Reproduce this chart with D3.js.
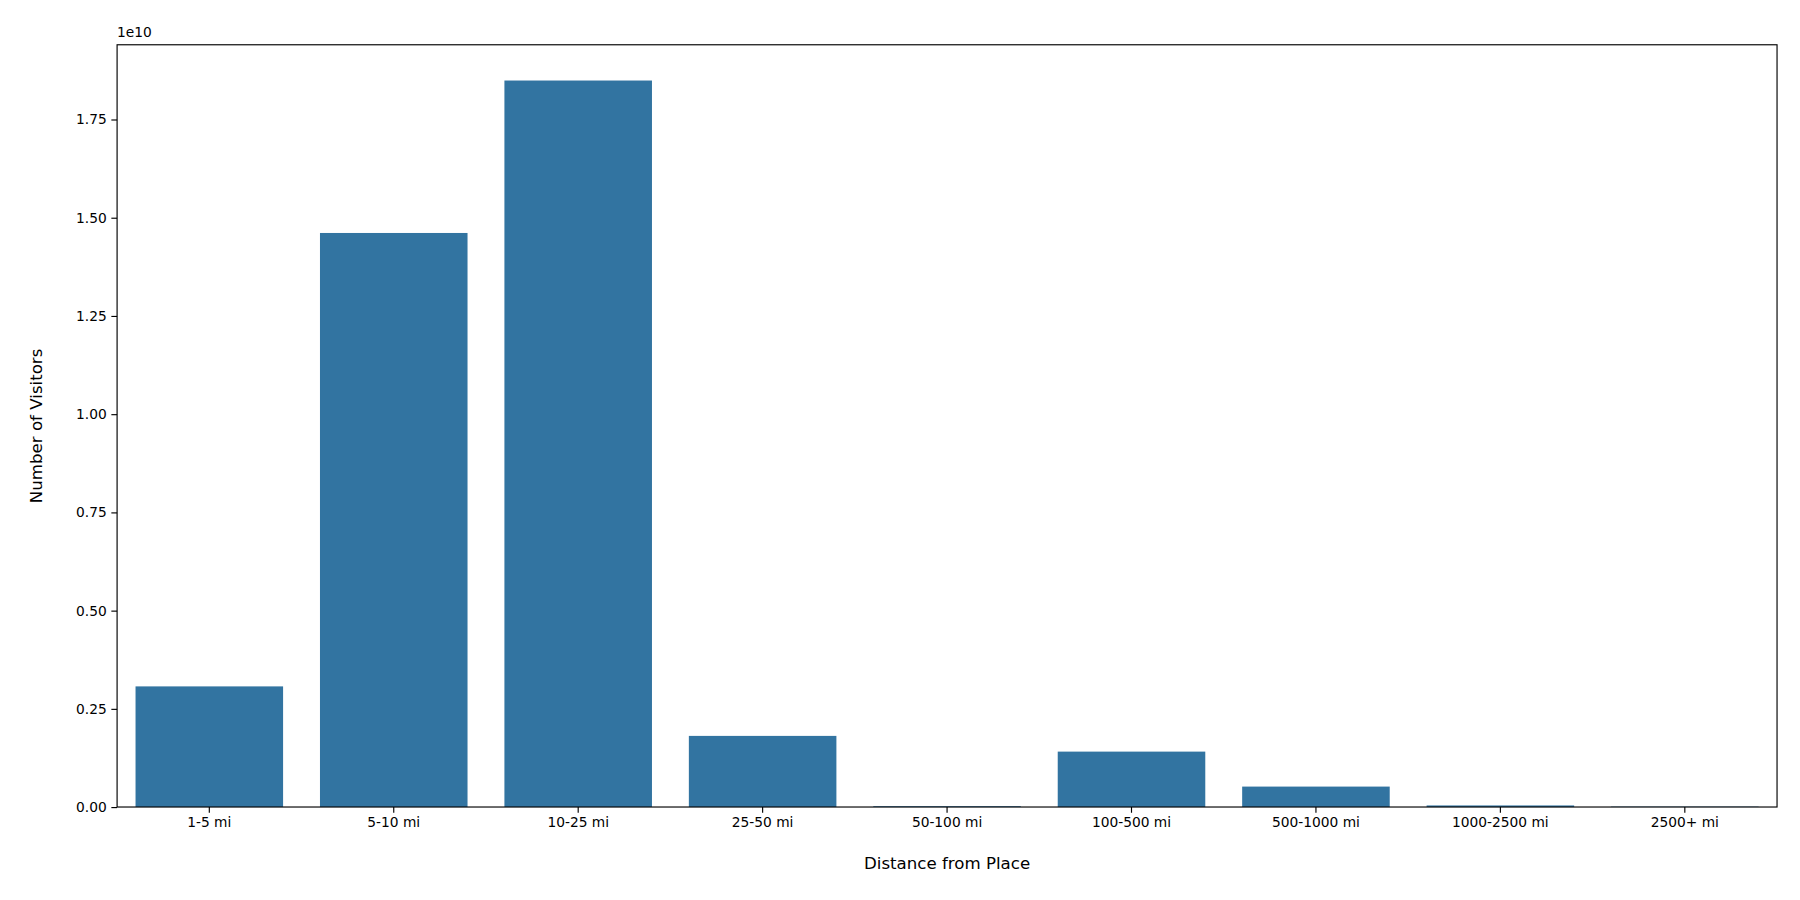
<!DOCTYPE html>
<html><head><meta charset="utf-8">
<script src="https://cdn.jsdelivr.net/npm/d3@7"></script>
<style>body{margin:0;background:#fff}</style></head>
<body><script>
const categories=["1-5 mi","5-10 mi","10-25 mi","25-50 mi","50-100 mi","100-500 mi","500-1000 mi","1000-2500 mi","2500+ mi"];
const visitors=[3.07e9,14.61e9,18.49e9,1.81e9,0.02e9,1.41e9,0.52e9,0.04e9,0.01e9];
const yTicks=[0,0.25e10,0.5e10,0.75e10,1.0e10,1.25e10,1.5e10,1.75e10];

const svg=d3.select("body").append("svg").attr("width",1800).attr("height",900)
  .attr("viewBox","0 0 1568 784").style("font-family","DejaVu Sans");
const L=102,R=1548,T=39,B=703;
const x=d3.scaleBand().domain(categories).range([L,R]).paddingInner(0.2).paddingOuter(0.1);
const y=d3.scaleLinear().domain([0,1.94e10]).range([B,T]);
svg.selectAll("rect.bar").data(visitors).join("rect").attr("class","bar")
  .attr("x",(d,i)=>x(categories[i])).attr("width",x.bandwidth())
  .attr("y",d=>y(d)).attr("height",d=>B-y(d)).attr("fill","#3274a1");
const xa=svg.append("g").attr("transform",`translate(0,${B})`).call(d3.axisBottom(x).tickSize(5).tickPadding(4));
const ya=svg.append("g").attr("transform",`translate(${L},0)`).call(d3.axisLeft(y).tickValues(yTicks).tickSize(5).tickPadding(4).tickFormat(d=>(d/1e10).toFixed(2)));
[xa,ya].forEach(a=>{a.selectAll("text").attr("font-size",12).attr("font-family","DejaVu Sans").attr("fill","#000");a.select(".domain").remove();a.selectAll("line").attr("stroke","#000");});
svg.append("rect").attr("x",L).attr("y",T).attr("width",R-L).attr("height",B-T).attr("fill","none").attr("stroke","#000").attr("stroke-width",1);
svg.append("text").attr("x",102).attr("y",32).attr("font-size",12).text("1e10");
svg.append("text").attr("x",(L+R)/2).attr("y",757).attr("text-anchor","middle").attr("font-size",14.5).text("Distance from Place");
svg.append("text").attr("transform",`translate(37,${(T+B)/2}) rotate(-90)`).attr("text-anchor","middle").attr("font-size",14.5).text("Number of Visitors");
</script></body></html>
